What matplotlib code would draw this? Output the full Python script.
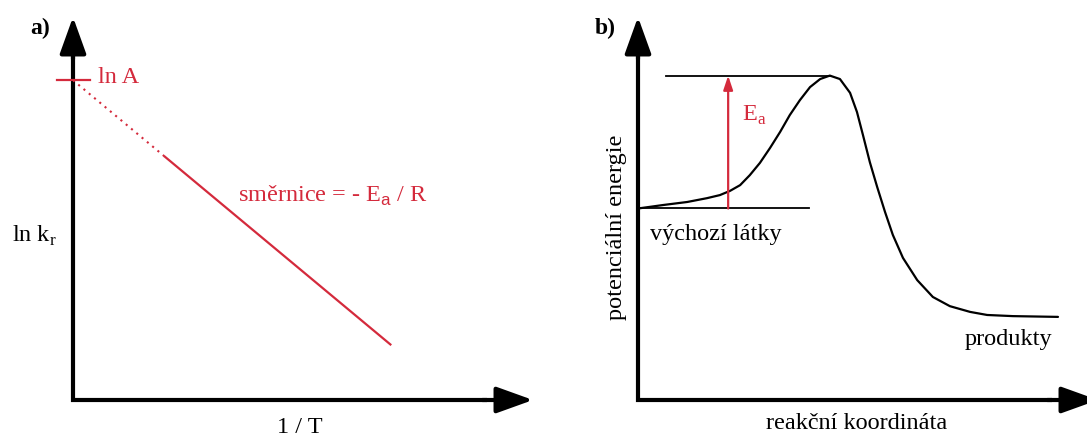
import matplotlib.pyplot as plt

plt.rcParams['font.family'] = ['Liberation Serif', 'DejaVu Serif']
plt.rcParams['mathtext.fontset'] = 'custom'
plt.rcParams['mathtext.rm'] = 'Liberation Serif'
plt.rcParams['mathtext.sf'] = 'Liberation Sans'

RED = '#d42a3c'

# a) Arrhenius plot: ln k_r against 1/T (arbitrary units)
ln_A = 8.35
inv_T_extrap = [0.0, 2.0]
ln_k_extrap = [8.35, 6.35]
inv_T_meas = [2.0, 6.9]
ln_k_meas = [6.35, 1.45]

# b) energy profile along the reaction coordinate (arbitrary units)
coord = [0.0, 0.54, 1.07, 1.50, 1.78, 2.00, 2.22, 2.43, 2.65, 2.87, 3.09,
         3.30, 3.52, 3.74, 3.96, 4.17, 4.39, 4.61, 4.76, 4.89, 5.04, 5.20,
         5.37, 5.54, 5.76, 6.07, 6.41, 6.78, 7.22, 7.59, 8.15, 9.13]
energy = [5.0, 5.09, 5.17, 5.27, 5.35, 5.46, 5.61, 5.87, 6.19, 6.58, 7.00,
          7.44, 7.83, 8.17, 8.38, 8.47, 8.38, 8.02, 7.52, 6.92, 6.21, 5.56,
          4.91, 4.31, 3.71, 3.13, 2.69, 2.45, 2.30, 2.22, 2.19, 2.17]
E_reactants = 5.0
E_transition = 8.47
x_Ea = 1.96

fig = plt.figure(figsize=(10.87, 4.34), dpi=100)
W, H = 1087, 434


def add_panel(left_px):
    ax = fig.add_axes([left_px / W, 34 / H, 460 / W, 383 / H])
    ax.set_xlim(0, 10)
    ax.set_ylim(0, 10)
    ax.axis('off')
    # hand-drawn style axes with arrow heads
    ax.plot([0, 0, 9.0], [9.0, 0, 0], color='black', lw=3.0,
            solid_joinstyle='miter', solid_capstyle='butt', clip_on=False)
    for start, end in [((0, 8.9), (0, 10)), ((8.9, 0), (10, 0))]:
        ax.annotate('', xy=end, xytext=start, annotation_clip=False,
                    arrowprops=dict(arrowstyle='-|>,head_length=1.25,head_width=0.45',
                                    mutation_scale=18, lw=3.0, color='black',
                                    shrinkA=0, shrinkB=0))
    return ax


# panel a
ax1 = add_panel(73)
ax1.plot(inv_T_extrap, ln_k_extrap, color=RED, lw=1.5, ls=(0, (1, 2.3)))
ax1.plot(inv_T_meas, ln_k_meas, color=RED, lw=1.6)
ax1.plot([-0.35, 0.37], [ln_A, ln_A], color=RED, lw=1.6, clip_on=False)
ax1.text(0.54, 8.41, 'ln A', color=RED, fontsize=17.5, va='center', ha='left')
ax1.text(3.59, 5.33, r'směrnice = - E$_{\mathsf{a}}$ / R', color=RED,
         fontsize=17.5, va='center', ha='left')
ax1.text(-1.33, 4.13, r'ln k$_\mathrm{r}$', fontsize=17.5, va='baseline', ha='left')
ax1.text(4.93, -0.45, '1 / T', fontsize=17.5, va='top', ha='center')
ax1.text(-0.72, 9.71, 'a)', fontsize=17, fontweight='bold', va='center', ha='center')

# panel b
ax2 = add_panel(638)
ax2.plot(coord, energy, color='black', lw=1.6, solid_joinstyle='round',
         solid_capstyle='round')
ax2.plot([0, 3.72], [E_reactants, E_reactants], color='black', lw=1.3)
ax2.plot([0.61, 4.17], [E_transition, E_transition], color='black', lw=1.3)
ax2.annotate('', xy=(x_Ea, E_transition), xytext=(x_Ea, E_reactants),
             arrowprops=dict(arrowstyle='-|>,head_length=0.6,head_width=0.2',
                             mutation_scale=14, lw=1.6, color=RED,
                             shrinkA=0, shrinkB=0))
ax2.text(2.26, 7.44, r'E$_\mathrm{a}$', color=RED, fontsize=17.5, va='center', ha='left')
ax2.text(0.26, 4.31, 'výchozí látky', fontsize=17.5, va='center', ha='left')
ax2.text(7.11, 1.57, 'produkty', fontsize=17.5, va='center', ha='left')
ax2.text(4.76, -0.34, 'reakční koordináta', fontsize=17.5, va='top', ha='center')
ax2.text(-0.46, 4.52, 'potenciální energie', fontsize=17.5, va='center',
         ha='center', rotation=90)
ax2.text(-0.72, 9.71, 'b)', fontsize=17, fontweight='bold', va='center', ha='center')

fig.savefig('out.png', dpi=100)
